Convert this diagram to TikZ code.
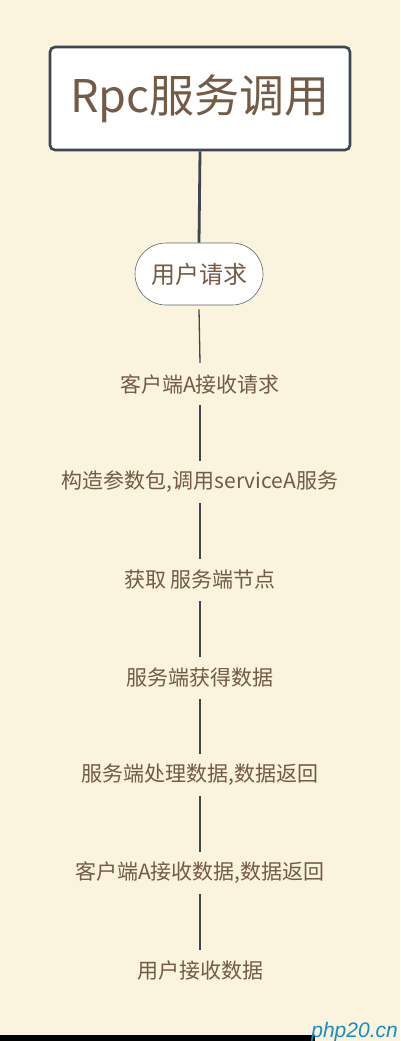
\documentclass[tikz,border=0pt]{standalone}
\usepackage{fontspec}
\setmainfont{Noto Sans CJK SC}
\newfontfamily\wmfont{Liberation Sans}
\definecolor{bgc}{HTML}{FAF3DD}
\definecolor{txt}{HTML}{735B45}
\definecolor{edge}{HTML}{3E474F}
\definecolor{wm}{HTML}{1A8CC0}
\tikzset{
  titlebox/.style={draw=edge, line width=2.6pt, fill=white, rounded corners=5pt,
    minimum width=300pt, minimum height=103pt, inner sep=0pt, text=txt,
    font=\fontsize{45}{50}\selectfont},
  pill/.style={draw=edge!85, line width=0.6pt, fill=white, rounded corners=31pt,
    minimum width=128pt, minimum height=62pt, inner sep=0pt, text=txt,
    font=\fontsize{24}{28}\selectfont},
  lbl/.style={minimum height=42pt, inner sep=0pt, text=txt,
    font=\fontsize{21}{25}\selectfont},
  conn/.style={draw=edge, line width=1.3pt},
  thick conn/.style={draw=edge, line width=2.8pt},
}
\begin{document}
\begin{tikzpicture}[x=1pt,y=-1pt]
\fill[bgc] (0,0) rectangle (400,1041);
\useasboundingbox (0,0) rectangle (400,1041);
\node[titlebox] (t) at (200,98.5) {Rpc服务调用};
\node[pill] (u) at (199,274) {用户请求};
\node[lbl] (l1) at (200,384) {客户端A接收请求};
\node[lbl] (l2) at (200,482) {构造参数包,调用serviceA服务};
\node[lbl] (l3) at (200,580) {获取 服务端节点};
\node[lbl] (l4) at (200,678) {服务端获得数据};
\node[lbl] (l5) at (200,775) {服务端处理数据,数据返回};
\node[lbl] (l6) at (200,873) {客户端A接收数据,数据返回};
\node[lbl] (l7) at (200,971) {用户接收数据};
\draw[thick conn] (t.south) -- (u.north);
\draw[conn] ([yshift=-4pt]u.south) -- (l1.north);
\draw[conn] (l1.south) -- (l2.north);
\draw[conn] (l2.south) -- (l3.north);
\draw[conn] (l3.south) -- (l4.north);
\draw[conn] (l4.south) -- (l5.north);
\draw[conn] (l5.south) -- (l6.north);
\draw[conn] (l6.south) -- (l7.north);
\fill[black] (0,1035) rectangle (315,1041);
\node[anchor=south east, inner sep=0pt, text=wm, font=\wmfont\itshape\fontsize{21}{24}\selectfont] (w) at (398,1042) {php20.cn};
\end{tikzpicture}
\end{document}
